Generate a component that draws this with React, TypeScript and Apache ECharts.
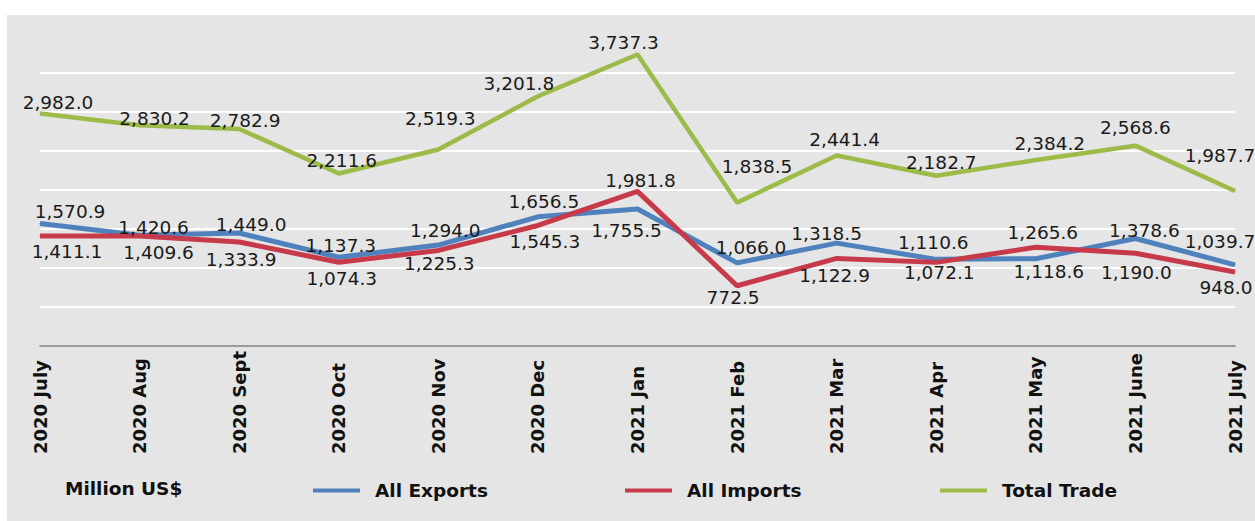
import React, { useEffect, useRef } from "react";
import * as echarts from "echarts";

const categories = [
  "2020 July", "2020 Aug", "2020 Sept", "2020 Oct", "2020 Nov", "2020 Dec",
  "2021 Jan", "2021 Feb", "2021 Mar", "2021 Apr", "2021 May", "2021 June", "2021 July",
];
const exportsData = [1570.9, 1420.6, 1449.0, 1137.3, 1294.0, 1656.5, 1755.5, 1066.0, 1318.5, 1110.6, 1118.6, 1378.6, 1039.7];
const importsData = [1411.1, 1409.6, 1333.9, 1074.3, 1225.3, 1545.3, 1981.8, 772.5, 1122.9, 1072.1, 1265.6, 1190.0, 948.0];
const totalData = [2982.0, 2830.2, 2782.9, 2211.6, 2519.3, 3201.8, 3737.3, 1838.5, 2441.4, 2182.7, 2384.2, 2568.6, 1987.7];
const seriesNames = ["All Exports", "All Imports", "Total Trade"];
const unitLabel = "Million US$";

// label placement offsets (style, not data)
const exportsLabelOffsets = [[30, -12], [14, -8], [12, -8], [2, -12], [7, -15], [6, -15], [-11, 21], [14, -15], [-10, -10], [-3, -17], [13, 13], [9, -8], [-15, -23]];
const importsLabelOffsets = [[27, 16], [19, 16], [2, 18], [3, 16], [1, 13], [7, 16], [3, -11], [-4, 12], [-2, 17], [3, 10], [7, -15], [1, 19], [-9, 15]];
const totalLabelOffsets = [[18, -11], [15, -7], [6, -8], [3, -13], [2, -31], [-19, -13], [-14, -12], [20, -36], [8, -16], [5, -13], [14, -17], [0, -18], [-15, -35]];

const colors = ["#4f81bd", "#c63a4a", "#9cbb48"];
const FONT = "DejaVu Sans";

const fmt = (v: number) =>
  v.toLocaleString("en-US", { minimumFractionDigits: 1, maximumFractionDigits: 1 });

function buildData(values: number[], offsets: number[][]) {
  return values.map((v, i) => ({ value: v, label: { offset: offsets[i] } }));
}

export default function App() {
  const ref = useRef<HTMLDivElement>(null);
  useEffect(() => {
    if (!ref.current) return;
    const chart = echarts.init(ref.current, undefined, { renderer: "svg" });
    const mkSeries = (name: string, values: number[], offsets: number[][], color: string, width: number) => ({
      name,
      type: "line",
      data: buildData(values, offsets),
      clip: false,
      symbol: "circle",
      symbolSize: 1,
      showSymbol: true,
      showAllSymbol: true,
      itemStyle: { color },
      lineStyle: { color, width },
      label: {
        show: true,
        position: "inside",
        align: "center",
        verticalAlign: "middle",
        color: "#1a1a1a",
        fontFamily: FONT,
        fontSize: 18.5,
        formatter: (p: any) => fmt(p.value),
      },
      emphasis: { disabled: true },
    });
    const legendBase = (name: string, left: number) => ({
      data: [name],
      left,
      top: 476,
      icon: "rect",
      itemWidth: 47,
      itemHeight: 4,
      selectedMode: false,
      textStyle: {
        fontFamily: FONT,
        fontWeight: "bold",
        fontSize: 18.5,
        color: "#111",
        padding: [0, 0, 0, 10],
      },
    });
    chart.setOption({
      animation: false,
      backgroundColor: "#ffffff",
      color: colors,
      graphic: [
        {
          type: "rect",
          z: -10,
          silent: true,
          shape: { x: 7, y: 15, width: 1255, height: 521 },
          style: { fill: "#e5e5e5" },
        },
        {
          type: "text",
          left: 65,
          top: 479,
          style: {
            text: unitLabel,
            font: `bold 18.5px "${FONT}"`,
            fill: "#111",
          },
        },
      ],
      legend: [
        legendBase(seriesNames[0], 308),
        legendBase(seriesNames[1], 620),
        legendBase(seriesNames[2], 935),
      ],
      grid: { left: 40, right: 20, top: 73, bottom: 175, containLabel: false },
      xAxis: {
        type: "category",
        data: categories,
        boundaryGap: false,
        axisLine: { show: true, lineStyle: { color: "#7a7a7a", width: 1.5 } },
        axisTick: { show: false },
        splitLine: { show: false },
        axisLabel: {
          rotate: 90,
          align: "left",
          verticalAlign: "middle",
          margin: 108,
          interval: 0,
          fontFamily: FONT,
          fontWeight: "bold",
          fontSize: 18,
          color: "#111",
        },
      },
      yAxis: {
        type: "value",
        min: 0,
        max: 3500,
        interval: 500,
        axisLine: { show: false },
        axisTick: { show: false },
        axisLabel: { show: false },
        splitLine: { show: true, lineStyle: { color: "#ffffff", width: 2 } },
      },
      series: [
        mkSeries(seriesNames[0], exportsData, exportsLabelOffsets, colors[0], 5),
        mkSeries(seriesNames[1], importsData, importsLabelOffsets, colors[1], 5),
        mkSeries(seriesNames[2], totalData, totalLabelOffsets, colors[2], 4.5),
      ],
    });
    return () => chart.dispose();
  }, []);
  return (
    <div
      ref={ref}
      style={{ position: "absolute", left: 0, top: 0, width: 1255, height: 521 }}
    />
  );
}
